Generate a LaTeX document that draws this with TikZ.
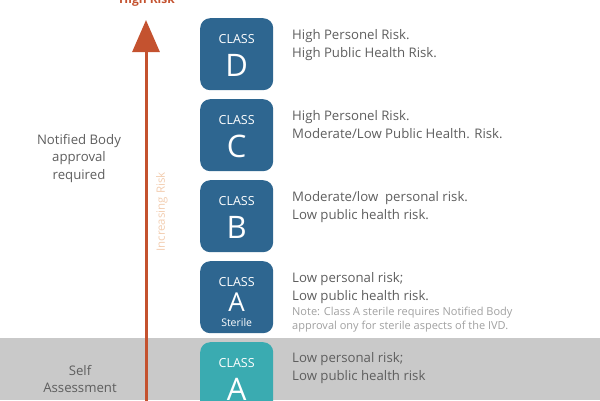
\documentclass[tikz,border=0pt]{standalone}
\usepackage{fontspec}
\setmainfont{Open Sans}
\usetikzlibrary{arrows.meta}
\definecolor{boxblue}{HTML}{2E6690}
\definecolor{boxteal}{HTML}{3AABB1}
\definecolor{riskred}{HTML}{C4522F}
\definecolor{peach}{HTML}{F2CDB0}
\definecolor{band}{HTML}{C9C9C9}
\definecolor{txt}{HTML}{5E5E5E}
\definecolor{notetxt}{HTML}{A0A0A0}
\tikzset{
  x=1pt,y=-1pt,
  classbox/.style={draw=none,fill=boxblue,rounded corners=10pt,minimum width=73pt,minimum height=72pt,anchor=north west,inner sep=0pt},
  classlbl/.style={text=white,font=\fontsize{12.5}{14}\selectfont,inner sep=0pt},
  classletter/.style={text=white,font=\fontsize{31}{32}\selectfont,inner sep=0pt},
  desc/.style={text=txt,font=\fontsize{13.2}{18}\selectfont,align=left,anchor=base west,inner sep=0pt},
  note/.style={text=notetxt,font=\fontsize{11}{14}\selectfont,align=left,anchor=base west,inner sep=0pt},
  sidelbl/.style={text=txt,font=\fontsize{13.2}{17.5}\selectfont,align=center,inner sep=0pt},
}
\begin{document}
\begin{tikzpicture}
\useasboundingbox (0,0) rectangle (600,400);
\fill[band] (0,338) rectangle (600,400);
% arrow
\coordinate (abot) at (146,402);
\coordinate (atop) at (146,20);
\draw[riskred,line width=3pt,-{Triangle[width=27pt,length=32pt]}] (abot) -- (atop);
\node[text=riskred,font=\bfseries\fontsize{12}{14}\selectfont,anchor=base,inner sep=0pt] (hr) at (147,3) {High Risk};
\node[text=peach,font=\fontsize{11.5}{12}\selectfont,rotate=90,inner sep=0pt] (inc) at (162,212) {Increasing Risk};
% side labels
\node[sidelbl,anchor=north] (nb) at (79,134) {Notified Body\\approval\\required};
\node[sidelbl,anchor=north] (sa) at (80,365) {Self\\Assessment};
% boxes
\node[classbox] (bD) at (200,18) {};
\node[classbox] (bC) at (200,99) {};
\node[classbox] (bB) at (200,180) {};
\node[classbox] (bAs) at (200,261) {};
\node[classbox,fill=boxteal] (bA) at (200,342) {};
\foreach \b/\l in {bD/D,bC/C,bB/B,bA/A}{
  \node[classlbl] (\b-c) at ([yshift=-21pt]\b.north) {CLASS};
  \node[classletter] (\b-l) at ([yshift=-47pt]\b.north) {\l};
}
\node[classlbl] (bAs-c) at ([yshift=-21pt]bAs.north) {CLASS};
\node[classletter,font=\fontsize{26}{27}\selectfont] (bAs-l) at ([yshift=-41pt]bAs.north) {A};
\node[text=white,font=\fontsize{10.5}{11}\selectfont,inner sep=0pt] (ster) at ([yshift=-62pt]bAs.north) {Sterile};
% descriptions
\node[desc] (dD) at (292,57) {High Personel Risk.\\High Public Health Risk.};
\node[desc] (dC) at (292,138) {High Personel Risk.\\Moderate/Low Public Health. Risk.};
\node[desc] (dB) at (292,219) {Moderate/low\ \ personal risk.\\Low public health risk.};
\node[desc] (dAs) at (292,300) {Low personal risk;\\Low public health risk.};
\node[note] (nAs) at (292,329) {Note: Class A sterile requires Notified Body\\approval ony for sterile aspects of the IVD.};
\node[desc] (dA) at (292,380) {Low personal risk;\\Low public health risk};
\end{tikzpicture}
\end{document}
